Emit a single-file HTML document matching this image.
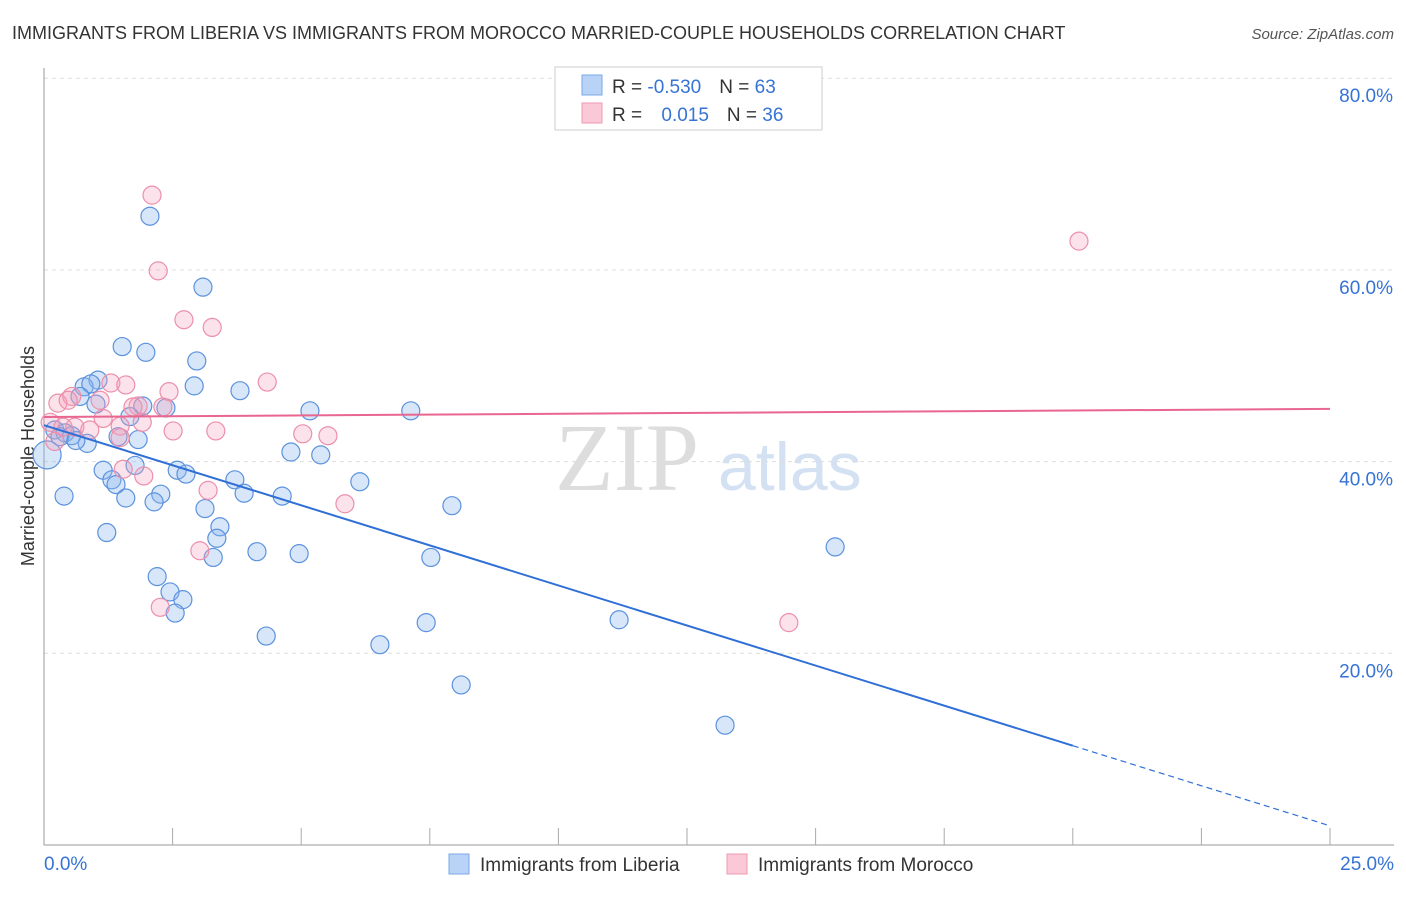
<!DOCTYPE html>
<html><head><meta charset="utf-8"><style>
body{margin:0;background:#fff;font-family:"Liberation Sans",sans-serif}
</style></head><body>
<svg id="c" width="1406" height="892" xmlns="http://www.w3.org/2000/svg">
<text x="12" y="39" font-size="18" fill="#333">IMMIGRANTS FROM LIBERIA VS IMMIGRANTS FROM MOROCCO MARRIED-COUPLE HOUSEHOLDS CORRELATION CHART</text>
<text x="1394" y="39" font-size="15" fill="#555" font-style="italic" text-anchor="end">Source: ZipAtlas.com</text>
<text x="555" y="490" font-size="96" fill="#ddd" font-family="Liberation Serif">ZIP</text>
<text x="718" y="490" font-size="68" fill="#d3e1f3">atlas</text>
<text transform="translate(34,456) rotate(-90)" font-size="18" fill="#333" text-anchor="middle">Married-couple Households</text>
<g id="grid"></g><g id="pts"></g><g id="lines"></g>
<g>
<rect x="555" y="67" width="267" height="63" fill="#fff" stroke="#ccc"/>
<rect x="582" y="75" width="20" height="20" fill="#b8d3f5" stroke="#7aa7e6"/>
<rect x="582" y="103" width="20" height="20" fill="#fac8d6" stroke="#ef9ab3"/>
<text x="612" y="93" font-size="19" fill="#333">R = <tspan fill="#3673d4">-0.530</tspan><tspan dx="18">N = </tspan><tspan fill="#3673d4">63</tspan></text>
<text x="612" y="121" font-size="19" fill="#333">R = <tspan dx="14" fill="#3673d4">0.015</tspan><tspan dx="18">N = </tspan><tspan fill="#3673d4">36</tspan></text>
</g>
<g>
<rect x="449" y="854" width="20" height="20" fill="#b8d3f5" stroke="#7aa7e6"/>
<text x="480" y="871" font-size="19" fill="#333">Immigrants from Liberia</text>
<rect x="727" y="854" width="20" height="20" fill="#fac8d6" stroke="#ef9ab3"/>
<text x="758" y="871" font-size="19" fill="#333">Immigrants from Morocco</text>
</g>
</svg>
<script>
const blueX=[2.06,3.09,1.52,1.98,2.97,1.05,0.78,0.91,2.92,3.81,0.70,1.01,1.92,2.37,1.67,5.17,7.13,0.21,0.41,0.54,0.31,0.84,0.62,1.44,1.83,4.80,5.38,0.06,1.77,1.15,2.59,2.76,3.71,1.32,6.14,1.40,0.39,2.27,3.89,1.59,4.63,2.14,7.93,3.13,3.42,1.22,3.36,15.38,4.14,4.96,3.29,7.52,2.20,2.45,2.70,2.55,11.18,7.43,4.32,6.53,8.11,13.24];
const blueY=[65.6,58.2,52.0,51.4,50.5,48.5,47.8,48.1,47.9,47.4,46.8,46.0,45.8,45.6,44.7,45.3,45.3,43.3,43.0,42.7,42.6,41.9,42.2,42.6,42.3,41.0,40.7,40.7,39.6,39.1,39.1,38.7,38.1,38.1,37.9,37.6,36.4,36.6,36.7,36.2,36.4,35.8,35.4,35.1,33.2,32.6,32.0,31.1,30.6,30.4,30.0,30.0,28.0,26.4,25.6,24.2,23.5,23.2,21.8,20.9,16.7,12.5];
const pinkX=[2.10,20.12,2.22,2.72,3.27,4.34,1.30,1.59,2.43,0.54,0.27,0.47,1.09,1.83,1.73,2.31,1.91,1.15,0.12,0.37,1.48,0.60,0.89,2.51,3.34,5.03,5.52,1.48,1.54,1.94,3.19,5.85,3.03,2.26,14.48,0.21];
const pinkY=[67.8,63.0,59.9,54.8,54.0,48.3,48.2,48.0,47.3,46.8,46.1,46.4,46.4,45.8,45.7,45.7,44.1,44.5,44.1,43.6,43.7,43.6,43.3,43.2,43.2,42.9,42.7,42.5,39.2,38.5,37.0,35.6,30.7,24.8,23.2,42.1];
const yTicks=[20,40,60,80];
const xTickLabels=["0.0%","25.0%"];
const blueTrend=[43.8,2.0];
const pinkTrend=[44.65,45.5];
const NS='http://www.w3.org/2000/svg';
const X=v=>44+v*51.44, Y=v=>845-v*9.585;
function mk(t,a,p){const e=document.createElementNS(NS,t);for(const k in a)e.setAttribute(k,a[k]);p.appendChild(e);return e;}
const grid=document.getElementById('grid');
yTicks.forEach(t=>{
 const l=mk('line',{x1:44,x2:1394,y1:Y(t),y2:Y(t),stroke:'#ddd','stroke-dasharray':'4,4'},grid);
 
 
 const tx=mk('text',{x:1393,y:Y(t)+24,'font-size':19,fill:'#3673d4','text-anchor':'end'},grid);
 tx.textContent=t.toFixed(1)+'%';
 
 
});
const ax=mk('line',{x1:44,x2:44,y1:68,y2:845,stroke:'#999'},grid);


const bx=mk('line',{x1:44,x2:1394,y1:845,y2:845,stroke:'#999'},grid);


for(let i=1;i<=10;i++){const t=mk('line',{x1:X(i*2.5),x2:X(i*2.5),y1:828,y2:845,stroke:'#aaa'},grid);
 
 }
[[44,'start'],[1394,'end']].forEach((p,i)=>{const t=mk('text',{x:p[0],y:870,'font-size':19,fill:'#3673d4','text-anchor':p[1]},grid);t.textContent=xTickLabels[i];
 
 });
const pts=document.getElementById('pts');
blueX.forEach((x,i)=>{const c=mk('circle',{cx:X(x),cy:Y(blueY[i]),r:x<0.1?14:9,fill:'rgba(140,182,238,0.35)',stroke:'#5b92dd','stroke-width':1.2},pts);
 
 });
pinkX.forEach((x,i)=>{const c=mk('circle',{cx:X(x),cy:Y(pinkY[i]),r:9,fill:'rgba(245,160,185,0.3)',stroke:'#ec8fab','stroke-width':1.2},pts);
 
 });
const lines=document.getElementById('lines');
const b=v=>blueTrend[0]+(blueTrend[1]-blueTrend[0])*v/25;
const l1=mk('line',{x1:X(0),y1:Y(b(0)),x2:X(20),y2:Y(b(20)),stroke:'#2f6fd6','stroke-width':2},lines);


const l2=mk('line',{x1:X(20),y1:Y(b(20)),x2:X(25),y2:Y(b(25)),stroke:'#2f6fd6','stroke-width':1.2,'stroke-dasharray':'6,4'},lines);


const l3=mk('line',{x1:X(0),y1:Y(pinkTrend[0]),x2:X(25),y2:Y(pinkTrend[1]),stroke:'#e8668f','stroke-width':2},lines);


</script>
</body></html>
